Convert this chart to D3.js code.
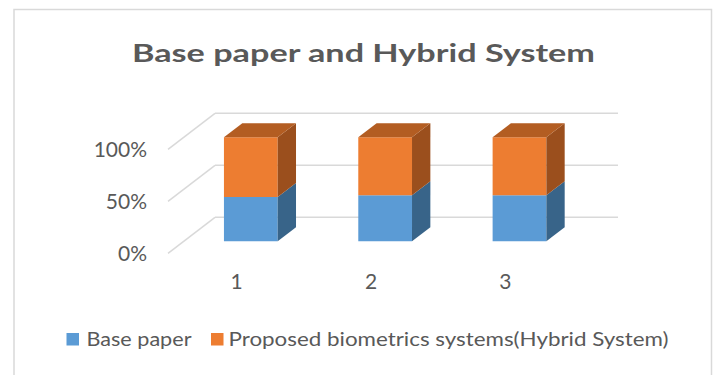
<!DOCTYPE html>
<html>
<head>
<meta charset="utf-8">
<script src="https://cdn.jsdelivr.net/npm/d3@7"></script>
<style>
  html, body { margin: 0; padding: 0; background: #fff; }
  svg { display: block; }
  text { font-family: Lato, "Open Sans", sans-serif; fill: #595959; }
</style>
</head>
<body>
<svg id="chart" width="717" height="375"></svg>
<script>
const categories = ["1", "2", "3"];
const basePaper = [42.5, 44.2, 44.3];
const hybrid = [57.5, 55.8, 55.7];
const seriesNames = ["Base paper", "Proposed biometrics systems(Hybrid System)"];
const yTicks = [0, 0.5, 1];
const titleText = "Base paper and Hybrid System";

const colors = {
  base: { front: "#5B9BD5", side: "#386489", top: "#4A7FB0" },
  hyb:  { front: "#ED7D31", side: "#9B4F1D", top: "#B35D22" }
};

const svg = d3.select("#chart");

// border
svg.append("rect").attr("x", 14).attr("y", 9.5).attr("width", 697.5).attr("height", 420)
  .attr("fill", "none").attr("stroke", "#d9d9d9").attr("stroke-width", 1.5);

// title
svg.append("text").attr("x", 363.5).attr("y", 62.3).attr("text-anchor", "middle")
  .attr("font-size", 24.5).attr("font-weight", "bold").attr("textLength", 463)
  .attr("lengthAdjust", "spacingAndGlyphs").text(titleText);

// scales (back wall)
const x = d3.scaleBand().domain(categories).range([215, 618]).paddingInner(0.6).paddingOuter(0.3);
const y = d3.scaleLinear().domain([0, 1]).range([217.3, 113.3]);
const depth = { dx: -47, dy: 36 };
const dBack = 0.277, dFront = 0.667;
const P = (px, v, d) => [px + d * depth.dx, y(v) + d * depth.dy];

// gridlines
const grid = svg.append("g");
yTicks.forEach(t => {
  grid.append("line").attr("x1", x.range()[0]).attr("x2", x.range()[1])
    .attr("y1", y(t)).attr("y2", y(t)).attr("stroke", "#d9d9d9").attr("stroke-width", 1.5);
  const a = P(x.range()[0], t, 0), b = P(x.range()[0], t, 1);
  grid.append("line").attr("x1", a[0]).attr("y1", a[1]).attr("x2", b[0]).attr("y2", b[1])
    .attr("stroke", "#d9d9d9").attr("stroke-width", 1.5);
});

// y tick labels
const fmt = d3.format(".0%");
yTicks.forEach(t => {
  const p = P(x.range()[0], t, 1);
  svg.append("text").attr("x", p[0] - 21).attr("y", p[1]).attr("dy", "0.35em")
    .attr("text-anchor", "end").attr("font-size", 21).text(fmt(t));
});

// stacked data
const data = categories.map((c, i) => {
  const tot = basePaper[i] + hybrid[i];
  return { c, segs: [
    { v0: 0, v1: basePaper[i] / tot, col: colors.base },
    { v0: basePaper[i] / tot, v1: 1, col: colors.hyb }
  ]};
});

const line = d3.line();
const bars = svg.append("g");
data.forEach(dd => {
  const x0 = x(dd.c), x1 = x0 + x.bandwidth();
  dd.segs.forEach((s, si) => {
    bars.append("path").attr("fill", s.col.front)
      .attr("d", line([P(x0, s.v0, dFront), P(x1, s.v0, dFront), P(x1, s.v1, dFront), P(x0, s.v1, dFront)]) + "Z");
    bars.append("path").attr("fill", s.col.side)
      .attr("d", line([P(x1, s.v0, dFront), P(x1, s.v1, dFront), P(x1, s.v1, dBack), P(x1, s.v0, dBack)]) + "Z");
    if (si === dd.segs.length - 1) {
      bars.append("path").attr("fill", s.col.top)
        .attr("d", line([P(x0, s.v1, dFront), P(x1, s.v1, dFront), P(x1, s.v1, dBack), P(x0, s.v1, dBack)]) + "Z");
    }
  });
});

// category labels
categories.forEach(c => {
  const p = P(x(c) + x.bandwidth() / 2, 0, 1);
  svg.append("text").attr("x", p[0] + 1.5).attr("y", 282).attr("dy", "0.35em")
    .attr("text-anchor", "middle").attr("font-size", 21).text(c);
});

// legend
const leg = svg.append("g");
const legItems = [
  { name: seriesNames[0], col: colors.base.front, sx: 66.5, tx: 86.5, w: 105 },
  { name: seriesNames[1], col: colors.hyb.front, sx: 211, tx: 228.5, w: 440 }
];
legItems.forEach(it => {
  leg.append("rect").attr("x", it.sx).attr("y", 333).attr("width", 12.5).attr("height", 12.5).attr("fill", it.col);
  leg.append("text").attr("x", it.tx).attr("y", 339.5).attr("dy", "0.35em").attr("font-size", 18.5)
    .attr("textLength", it.w).attr("lengthAdjust", "spacingAndGlyphs").text(it.name);
});
</script>
</body>
</html>
